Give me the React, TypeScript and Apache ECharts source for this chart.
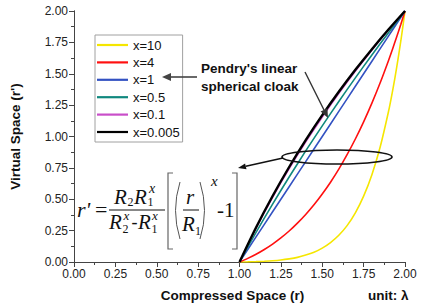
import React, { useEffect, useRef } from "react";
import * as echarts from "echarts";

const seriesNames = ["x=10", "x=4", "x=1", "x=0.5", "x=0.1", "x=0.005"];
const seriesColors = ["#f5e600", "#ff1010", "#3352c2", "#10887e", "#c94ec9", "#000000"];
const seriesWidths = [1.6, 1.6, 1.6, 1.6, 1.3, 2.4];

// fine r grid (used for the strongly curved x=10 and x=4 curves)
const rFine = [1, 1.05, 1.1, 1.15, 1.2, 1.25, 1.3, 1.35, 1.4, 1.45, 1.5, 1.55, 1.6, 1.65, 1.7, 1.75, 1.8, 1.85, 1.9, 1.925, 1.95, 1.975, 2];
const yX10 = [0, 0.001, 0.003, 0.006, 0.010, 0.016, 0.025, 0.037, 0.055, 0.078, 0.111, 0.155, 0.213, 0.290, 0.392, 0.525, 0.696, 0.916, 1.197, 1.364, 1.552, 1.763, 2];
const yX4 = [0, 0.029, 0.062, 0.100, 0.143, 0.192, 0.247, 0.310, 0.379, 0.456, 0.542, 0.636, 0.740, 0.855, 0.980, 1.117, 1.266, 1.428, 1.604, 1.698, 1.795, 1.895, 2];

// coarse r grid (nearly straight curves)
const rCoarse = [1, 1.1, 1.2, 1.3, 1.4, 1.5, 1.6, 1.7, 1.8, 1.9, 2];
const yX1 = [0, 0.2, 0.4, 0.6, 0.8, 1.0, 1.2, 1.4, 1.6, 1.8, 2];
const yX05 = [0, 0.236, 0.461, 0.677, 0.885, 1.085, 1.279, 1.467, 1.650, 1.827, 2];
const yX01 = [0, 0.267, 0.513, 0.741, 0.954, 1.153, 1.341, 1.519, 1.687, 1.847, 2];
const yX0005 = [0, 0.275, 0.526, 0.757, 0.971, 1.170, 1.356, 1.531, 1.696, 1.852, 2];

const sans = '"Liberation Sans", Arial, sans-serif';
const serif = '"Liberation Serif", "DejaVu Serif", serif';

function pair(xs: number[], ys: number[]) {
  return xs.map((x, i) => [x, ys[i]]);
}

function ft(text: string, x: number, y: number, size: number, italic = true): any {
  return {
    type: "text",
    x,
    y,
    z: 100,
    style: {
      text,
      fontSize: size,
      fontFamily: serif,
      fontStyle: italic ? "italic" : "normal",
      fill: "#111",
      textAlign: "left",
      textVerticalAlign: "middle",
    },
  };
}

function ln(x1: number, y1: number, x2: number, y2: number, stroke = "#111", w = 1): any {
  return { type: "line", z: 100, shape: { x1, y1, x2, y2 }, style: { stroke, lineWidth: w } };
}

function head(points: number[][], fill = "#333"): any {
  return { type: "polygon", z: 100, shape: { points }, style: { fill } };
}

export default function App() {
  const ref = useRef<HTMLDivElement>(null);
  useEffect(() => {
    if (!ref.current) return;
    const chart = echarts.init(ref.current, undefined, { renderer: "svg" });
    const datasets = [
      pair(rFine, yX10),
      pair(rFine, yX4),
      pair(rCoarse, yX1),
      pair(rCoarse, yX05),
      pair(rCoarse, yX01),
      pair(rCoarse, yX0005),
    ];
    const axisLabelFmt = (v: number) => v.toFixed(2);
    const baseAxis = {
      type: "value",
      min: 0,
      max: 2,
      interval: 0.25,
      splitLine: { show: false },
      axisLine: { show: true, lineStyle: { color: "#444", width: 1 } },
      minorTick: { show: true, splitNumber: 2, length: 2.5, lineStyle: { color: "#444" } },
    };
    const option: any = {
      animation: false,
      backgroundColor: "#ffffff",
      grid: { left: 71, right: 17, top: 11, bottom: 45 },
      xAxis: [
        {
          ...baseAxis,
          position: "bottom",
          axisTick: { inside: false, length: 4, lineStyle: { color: "#444" } },
          axisLabel: { formatter: axisLabelFmt, fontSize: 12, color: "#222", fontFamily: sans, margin: 6 },
          name: "Compressed Space (r)",
          nameLocation: "middle",
          nameGap: 26,
          nameTextStyle: { fontSize: 13.5, fontWeight: "bold", color: "#111", fontFamily: sans, padding: [0, 14, 0, 0] },
        },
        {
          ...baseAxis,
          position: "top",
          axisTick: { inside: true, length: 5, lineStyle: { color: "#444" } },
          minorTick: { show: true, splitNumber: 2, length: 3, lineStyle: { color: "#444" } },
          axisLabel: { show: false },
        },
      ],
      yAxis: [
        {
          ...baseAxis,
          position: "left",
          axisTick: { inside: false, length: 4, lineStyle: { color: "#444" } },
          axisLabel: { formatter: axisLabelFmt, fontSize: 12, color: "#222", fontFamily: sans, margin: 6 },
          name: "Virtual Space (r')",
          nameLocation: "middle",
          nameGap: 52,
          nameTextStyle: { fontSize: 13.5, fontWeight: "bold", color: "#111", fontFamily: sans },
        },
        {
          ...baseAxis,
          position: "right",
          axisTick: { inside: true, length: 5, lineStyle: { color: "#444" } },
          minorTick: { show: true, splitNumber: 2, length: 3, lineStyle: { color: "#444" } },
          axisLabel: { show: false },
        },
      ],
      legend: {
        orient: "vertical",
        left: 95,
        top: 35,
        icon: "rect",
        itemWidth: 31,
        itemHeight: 2.2,
        itemGap: 3.4,
        padding: [3, 3, 3, 2],
        borderColor: "#a0a0a0",
        borderWidth: 1,
        backgroundColor: "#ffffff",
        textStyle: { fontSize: 13, lineHeight: 14, color: "#111", fontFamily: sans },
        data: seriesNames,
      },
      series: seriesNames.map((name, i) => ({
        name,
        type: "line",
        data: datasets[i],
        smooth: 0.3,
        symbol: "none",
        showSymbol: false,
        lineStyle: { color: seriesColors[i], width: seriesWidths[i] },
        itemStyle: { color: seriesColors[i] },
        z: 2 + i,
      })),
      graphic: [
        // unit label
        {
          type: "text",
          x: 368,
          y: 295,
          z: 100,
          style: { text: "unit: λ", fontSize: 13.5, fontWeight: "bold", fontFamily: sans, fill: "#111", textAlign: "left", textVerticalAlign: "middle" },
        },
        // Pendry annotation
        {
          type: "text",
          x: 201,
          y: 68,
          z: 100,
          style: { text: "Pendry's linear", fontSize: 13.5, fontWeight: "bold", fontFamily: sans, fill: "#111", textAlign: "left", textVerticalAlign: "middle" },
        },
        {
          type: "text",
          x: 201,
          y: 86,
          z: 100,
          style: { text: "spherical cloak", fontSize: 13.5, fontWeight: "bold", fontFamily: sans, fill: "#111", textAlign: "left", textVerticalAlign: "middle" },
        },
        ln(197, 77, 170, 77, "#444", 1.6),
        head([[162, 77], [171, 73], [171, 81]], "#444"),
        ln(305, 72, 324, 110, "#333", 1.4),
        head([[328, 118], [320.6, 111.6], [327.4, 108.2]], "#333"),
        // ellipse
        {
          type: "ellipse",
          z: 100,
          shape: { cx: 337, cy: 157, rx: 55, ry: 7 },
          style: { fill: "none", stroke: "#111", lineWidth: 1.6 },
        },
        ln(283, 158, 245.8, 166.3, "#111", 1.4),
        head([[238, 168], [245.1, 163.4], [246.5, 169.2]], "#111"),
        // formula
        ft("r'", 77, 209, 22),
        ft("=", 95, 209, 22, false),
        ft("R", 114, 197, 21),
        ft("2", 127.5, 202, 12, false),
        ft("R", 134, 197, 21),
        ft("1", 147.5, 202, 12, false),
        ft("x", 149, 188, 14),
        ln(109, 210, 165, 210, "#111", 1),
        ft("R", 109, 222, 21),
        ft("2", 122.5, 229, 12, false),
        ft("x", 123.5, 215.5, 13),
        ft("-", 131.5, 222, 18, false),
        ft("R", 138, 222, 21),
        ft("1", 151.5, 229, 12, false),
        ft("x", 152, 215.5, 13),
        { type: "polyline", z: 100, shape: { points: [[173, 173], [168, 173], [168, 249], [173, 249]] }, style: { stroke: "#666", lineWidth: 1.2, fill: "none" } },
        { type: "polyline", z: 100, shape: { points: [[232, 173], [237, 173], [237, 249], [232, 249]] }, style: { stroke: "#666", lineWidth: 1.2, fill: "none" } },
        { type: "bezierCurve", z: 100, shape: { x1: 180, y1: 182, x2: 180, y2: 239, cpx1: 171, cpy1: 210.5 }, style: { stroke: "#555", lineWidth: 1, fill: "none" } },
        { type: "bezierCurve", z: 100, shape: { x1: 200, y1: 182, x2: 200, y2: 239, cpx1: 209, cpy1: 210.5 }, style: { stroke: "#555", lineWidth: 1, fill: "none" } },
        ft("r", 186, 197, 21),
        ln(183, 210, 199, 210, "#111", 1),
        ft("R", 182, 224, 21),
        ft("1", 195, 231, 12, false),
        ft("x", 211, 181, 15),
        ft("-1", 217, 210, 21, false),
      ],
    };
    chart.setOption(option);
    return () => chart.dispose();
  }, []);
  return <div ref={ref} style={{ position: "fixed", left: 0, top: 0, width: 422, height: 307 }} />;
}
